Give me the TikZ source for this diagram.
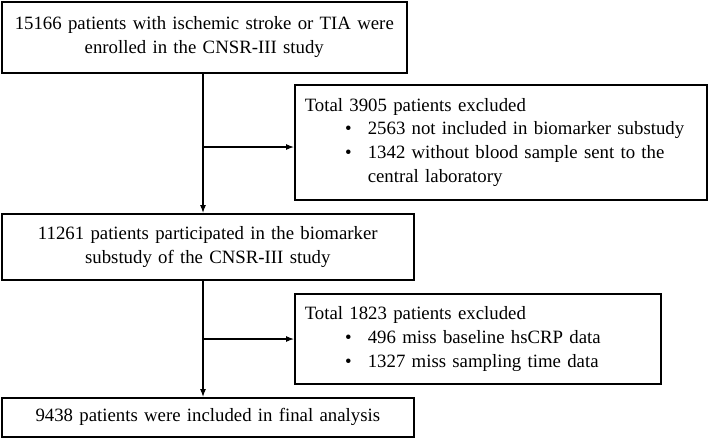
\documentclass[tikz,border=0pt]{standalone}
\usepackage{fontspec}
\setmainfont{Liberation Serif}
\usepackage{tikz}
\usetikzlibrary{arrows.meta}

\newcommand{\bul}{\makebox[63pt][r]{\textbullet\hspace{16pt}}}

\begin{document}
\begin{tikzpicture}[x=1pt,y=1pt,
	box/.style={draw, line width=1.6pt, inner xsep=10pt, inner ysep=0pt, anchor=north west,
		font=\fontsize{18.8pt}{23.8pt}\selectfont},
	arr/.style={line width=1.1pt, -{Latex[length=8pt,width=6pt]}}]

	\useasboundingbox (0,0) rectangle (709,-437);

	% Draw main boxes
	\node[box, inner xsep=1pt, text width=403pt, minimum height=71pt, align=center] (enrol) at (1,-1)
		{\mbox{15166 patients with ischemic stroke or TIA were}\\enrolled in the CNSR-III study};
	\node[box, inner xsep=1pt, text width=410pt, minimum height=66pt, align=center] (sub) at (1,-213)
		{\mbox{11261 patients participated in the biomarker}\\substudy of the CNSR-III study};
	\node[box, inner xsep=1pt, text width=410pt, minimum height=39pt, align=center] (final) at (1,-397)
		{9438 patients were included in final analysis};

	% Draw exclusion boxes
	\node[box, text width=392pt, minimum height=115pt, align=left] (excl1) at (294,-84)
		{Total 3905 patients excluded\\
		\mbox{\bul 2563 not included in biomarker substudy}\\
		\mbox{\bul 1342 without blood sample sent to the}\\
		\hspace*{63pt}central laboratory};
	\node[box, text width=346pt, minimum height=90pt, align=left] (excl2) at (294,-293)
		{Total 1823 patients excluded\\
		\mbox{\bul 496 miss baseline hsCRP data}\\
		\mbox{\bul 1327 miss sampling time data}};

	\coordinate (j1) at (203,-147);
	\coordinate (j2) at (203,-339);

	% Draw vertical arrows
	\draw[arr] (j1 |- enrol.south) -- (j1 |- sub.north);
	\draw[arr] (j2 |- sub.south) -- (j2 |- final.north);

	% Draw horizontal arrows
	\draw[arr] (j1) -- (j1 -| excl1.west);
	\draw[arr] (j2) -- (j2 -| excl2.west);
\end{tikzpicture}
\end{document}
